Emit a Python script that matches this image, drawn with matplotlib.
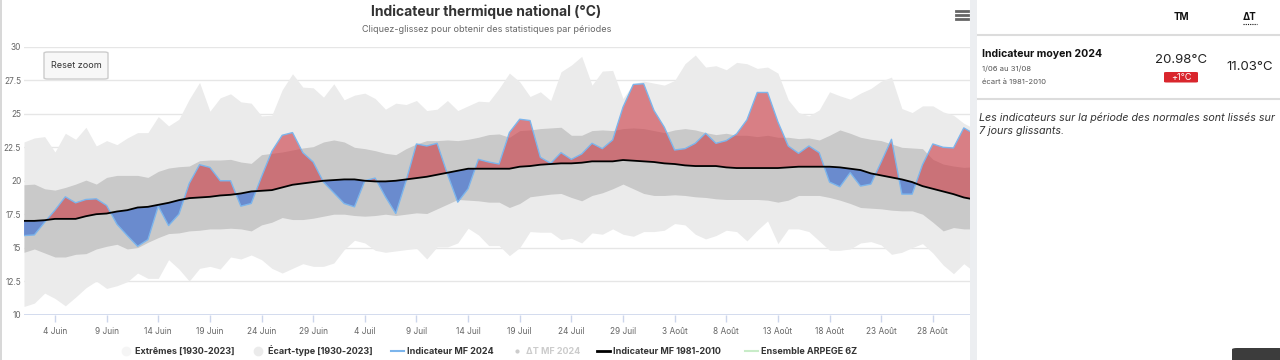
import matplotlib
matplotlib.use("Agg")
import matplotlib.pyplot as plt
from matplotlib.patches import Rectangle, FancyBboxPatch
from matplotlib.lines import Line2D
import numpy as np

plt.rcParams['font.family'] = ['Inter', 'DejaVu Sans']

# ---------------- data (day index 0 = 1 June) ----------------
ext_hi = [22.9, 23.2, 23.3, 22.15, 23.55, 23.1, 24.0, 22.6, 23.0, 22.7, 23.2, 23.6, 23.6, 24.8, 24.1, 24.6,
          26.1, 27.35, 25.2, 26.2, 26.5, 25.9, 25.8, 24.85, 24.9, 26.8, 28.0, 27.0, 26.95, 26.25, 27.25,
          26.05, 26.4, 26.55, 26.15, 25.35, 25.8, 25.7, 26.0, 25.25, 25.35, 26.0, 25.25, 25.6, 25.95, 25.9,
          26.9, 28.05, 27.4, 26.3, 26.65, 26.0, 28.15, 28.65, 29.3, 27.15, 28.2, 28.25, 26.15, 27.25, 27.45,
          27.3, 27.15, 27.5, 28.75, 29.4, 28.5, 28.6, 28.3, 28.85, 28.75, 28.4, 28.5, 28.05, 26.05, 25.1,
          24.85, 25.3, 26.65, 26.35, 26.1, 26.55, 26.9, 27.45, 27.75, 25.4, 25.1, 25.6, 25.6, 25.15, 24.9,
          24.3, 23.9]
ext_lo = [10.6, 10.85, 11.6, 11.2, 10.65, 11.3, 12.0, 12.5, 11.95, 12.15, 12.45, 13.1, 12.7, 12.7, 14.1, 13.4,
          12.5, 13.45, 13.6, 13.4, 14.3, 14.15, 14.45, 14.1, 13.45, 13.1, 13.45, 13.8, 13.6, 13.6, 13.85,
          14.85, 15.55, 15.35, 14.8, 14.65, 14.75, 14.85, 14.95, 14.15, 15.05, 15.05, 15.35, 16.45, 15.95, 15.15,
          15.15, 14.4, 15.0, 16.2, 16.15, 16.15, 15.6, 15.7, 15.35, 16.1, 16.0, 16.4, 16.0, 15.85, 16.2,
          16.2, 16.3, 16.8, 16.7, 16.0, 15.65, 15.9, 16.3, 16.2, 15.5, 16.3, 17.0, 15.3, 16.4, 16.4,
          16.2, 15.5, 14.8, 14.8, 14.9, 15.35, 15.45, 15.2, 14.5, 14.65, 15.0, 15.3, 14.6, 13.7, 13.05,
          13.8, 13.2]
std_hi = [19.7, 19.75, 19.4, 19.3, 19.5, 19.75, 20.05, 19.75, 20.25, 20.4, 20.4, 20.4, 20.25, 20.7, 20.95, 21.05,
          21.1, 21.5, 21.55, 21.55, 21.6, 21.4, 21.3, 21.95, 22.05, 22.15, 22.3, 22.45, 22.55, 22.9, 23.05,
          22.9, 22.5, 22.4, 22.25, 22.05, 21.95, 22.4, 22.75, 23.0, 23.0, 23.05, 23.0, 23.1, 23.25, 23.45,
          23.5, 23.25, 23.75, 23.8, 23.9, 23.95, 24.0, 23.4, 23.4, 23.75, 23.8, 23.75, 23.9, 23.95, 23.9,
          23.75, 23.6, 23.8, 23.9, 23.8, 23.6, 23.45, 23.55, 23.4, 23.4, 23.3, 23.4, 23.25, 23.25, 23.15,
          23.2, 23.05, 23.4, 23.8, 23.55, 23.25, 23.1, 23.0, 22.75, 22.5, 22.45, 22.4, 21.6, 21.25, 21.1,
          21.0, 21.05]
std_lo = [14.65, 14.9, 14.6, 14.3, 14.3, 14.5, 14.55, 14.9, 15.1, 15.25, 14.9, 15.0, 15.4, 15.75, 16.05, 16.1,
          16.25, 16.3, 16.4, 16.4, 16.45, 16.4, 16.25, 16.7, 16.9, 17.25, 17.1, 17.1, 17.2, 17.35, 17.5,
          17.5, 17.4, 17.35, 17.4, 17.5, 17.4, 17.5, 17.6, 17.55, 17.9, 18.25, 18.6, 18.55, 18.5, 18.4,
          18.4, 18.0, 18.3, 18.8, 18.9, 19.0, 19.05, 18.75, 18.5, 18.9, 19.1, 19.4, 19.75, 19.4, 19.05,
          18.9, 18.9, 18.95, 18.9, 18.8, 18.75, 18.65, 18.6, 18.6, 18.6, 18.6, 18.55, 18.4, 18.55, 18.9,
          18.9, 18.9, 18.75, 18.55, 18.3, 18.0, 17.95, 17.9, 17.8, 17.75, 17.75, 17.5, 16.9, 16.25, 16.5,
          16.4, 16.4]
t2024 = [15.9, 15.95, 16.9, 17.8, 18.8, 18.35, 18.6, 18.65, 18.15, 16.75, 15.9, 15.1, 15.6, 18.1, 16.65, 17.5,
         19.8, 21.2, 21.0, 20.0, 20.0, 18.1, 18.3, 20.3, 22.2, 23.4, 23.6, 22.1, 21.4, 19.9, 19.1,
         18.3, 18.05, 20.0, 20.2, 18.8, 17.55, 20.0, 22.75, 22.6, 22.8, 20.5, 18.4, 19.4, 21.6, 21.4,
         21.25, 23.6, 24.6, 24.5, 21.75, 21.3, 22.1, 21.6, 22.0, 22.8, 22.4, 23.05, 25.5, 27.2, 27.25,
         25.25, 24.0, 22.3, 22.4, 22.8, 23.55, 22.8, 23.0, 23.5, 24.55, 26.6, 26.6, 24.4, 22.6, 22.05,
         22.6, 22.1, 19.9, 19.55, 20.6, 19.6, 19.75, 21.4, 23.1, 19.0, 19.0, 21.2, 22.75, 22.5, 22.45,
         23.95, 23.5]
normal = [17.0, 17.0, 17.05, 17.15, 17.15, 17.15, 17.35, 17.5, 17.55, 17.7, 17.8, 18.0, 18.05, 18.2, 18.35, 18.55,
          18.7, 18.75, 18.8, 18.9, 18.95, 19.05, 19.2, 19.25, 19.3, 19.5, 19.7, 19.8, 19.9, 20.0, 20.05,
          20.1, 20.1, 20.0, 19.95, 19.95, 20.0, 20.1, 20.2, 20.3, 20.45, 20.6, 20.75, 20.9, 20.9, 20.9,
          20.9, 20.9, 21.05, 21.1, 21.2, 21.25, 21.3, 21.3, 21.35, 21.45, 21.45, 21.45, 21.55, 21.5, 21.45,
          21.4, 21.3, 21.25, 21.15, 21.1, 21.1, 21.1, 21.0, 20.95, 20.95, 20.95, 20.95, 20.95, 21.0, 21.05,
          21.05, 21.05, 21.05, 21.0, 20.9, 20.8, 20.55, 20.4, 20.25, 20.1, 19.9, 19.6, 19.4, 19.2, 19.0,
          18.75, 18.6]

tick_days = [3, 8, 13, 18, 23, 28, 33, 38, 43, 48, 53, 58, 63, 68, 73, 78, 83, 88]
tick_labels = ["4 Juin", "9 Juin", "14 Juin", "19 Juin", "24 Juin", "29 Juin", "4 Juil", "9 Juil",
               "14 Juil", "19 Juil", "24 Juil", "29 Juil", "3 Août", "8 Août", "13 Août", "18 Août",
               "23 Août", "28 Août"]
y_ticks = [10, 12.5, 15, 17.5, 20, 22.5, 25, 27.5, 30]
y_labels = ["10", "12.5", "15", "17.5", "20", "22.5", "25", "27.5", "30"]

legend_items = ["Extrêmes [1930-2023]", "Écart-type [1930-2023]", "Indicateur MF 2024",
                "ΔT MF 2024", "Indicateur MF 1981-2010", "Ensemble ARPEGE 6Z"]

days = np.arange(len(t2024))
t2024 = np.array(t2024); normal = np.array(normal)

W, H = 1280, 360
fig = plt.figure(figsize=(W/100, H/100), dpi=100)
fig.patch.set_facecolor('white')

def fx(x): return x / W
def fy(y): return 1 - y / H

ax = fig.add_axes([fx(24), fy(314.5), (970-24)/W, (314.5-47)/H])
ax.set_xlim(0, 91.6)
ax.set_ylim(10, 30)
ax.set_facecolor('white')
for s in ax.spines.values():
    s.set_visible(False)

for yv in y_ticks[1:]:
    ax.axhline(yv, color='#e6e6e6', lw=1, zorder=0)
ax.axhline(10, color='#ccd6eb', lw=1.2, zorder=6)

ax.fill_between(days, ext_lo, ext_hi, color='#ebebeb', lw=0, zorder=1)
ax.fill_between(days, std_lo, std_hi, color='#c9c9c9', lw=0, zorder=2)
ax.fill_between(days, normal, t2024, where=t2024 >= normal, interpolate=True,
                color=(0.80, 0.22, 0.26, 0.6), lw=0, zorder=3)
ax.fill_between(days, normal, t2024, where=t2024 <= normal, interpolate=True,
                color=(0.22, 0.42, 0.82, 0.65), lw=0, zorder=3)
ax.plot(days, t2024, color='#7cb5ec', lw=1.0, zorder=4)
ax.plot(days, normal, color='black', lw=1.3, zorder=5)

ax.set_yticks(y_ticks)
ax.set_yticklabels(y_labels)
ax.tick_params(axis='y', length=0, pad=2, labelsize=6, labelcolor='#666666')
ax.set_xticks(tick_days)
ax.set_xticklabels(tick_labels)
ax.tick_params(axis='x', length=5, width=1, color='#ccd6eb', pad=4, labelsize=6, labelcolor='#666666')

# title / subtitle
fig.text(fx(486), fy(12), "Indicateur thermique national (°C)", ha='center', va='center',
         fontsize=10, fontweight='bold', color='#333333')
fig.text(fx(487), fy(30), "Cliquez-glissez pour obtenir des statistiques par périodes", ha='center',
         va='center', fontsize=6.5, color='#666666')

# hamburger icon
for yy in (11, 15, 19):
    fig.add_artist(Line2D([fx(956), fx(968)], [fy(yy), fy(yy)], color='#666666', lw=2))

# reset zoom button
btn = FancyBboxPatch((fx(44), fy(79)), fx(64), 27/H, boxstyle="round,pad=0,rounding_size=0.003",
                     transform=fig.transFigure, facecolor='#f7f7f7', edgecolor='#cccccc', lw=1, zorder=10)
fig.add_artist(btn)
fig.text(fx(76), fy(66), "Reset zoom", ha='center', va='center', fontsize=6.5, color='#333333', zorder=11)

# legend
ly = fy(351)
fig.add_artist(Line2D([fx(126)], [ly], marker='o', ms=6, color='#f5f5f5', lw=0))
fig.text(fx(135), ly, legend_items[0], fontsize=6.5, fontweight='bold', color='#333333', va='center')
fig.add_artist(Line2D([fx(258)], [ly], marker='o', ms=6, color='#ebebeb', lw=0))
fig.text(fx(268), ly, legend_items[1], fontsize=6.5, fontweight='bold', color='#333333', va='center')
fig.add_artist(Line2D([fx(391), fx(404)], [ly, ly], color='#7cb5ec', lw=1.5))
fig.text(fx(407), ly, legend_items[2], fontsize=6.5, fontweight='bold', color='#333333', va='center')
fig.add_artist(Line2D([fx(517)], [ly], marker='o', ms=2, color='#cccccc', lw=0))
fig.text(fx(526), ly, legend_items[3], fontsize=6.5, fontweight='bold', color='#cccccc', va='center')
fig.add_artist(Line2D([fx(597), fx(610)], [ly, ly], color='black', lw=2))
fig.text(fx(613), ly, legend_items[4], fontsize=6.5, fontweight='bold', color='#333333', va='center')
fig.add_artist(Line2D([fx(745), fx(758)], [ly, ly], color='#c8ecc8', lw=1.5))
fig.text(fx(761), ly, legend_items[5], fontsize=6.5, fontweight='bold', color='#333333', va='center')

# left border
fig.add_artist(Rectangle((0, 0), fx(1.5), 1, transform=fig.transFigure, color='#d8d8d8', lw=0))
# separator between chart and panel
fig.add_artist(Rectangle((fx(970), 0), fx(7), 1, transform=fig.transFigure, color='#eceef1', lw=0))

# right panel
fig.text(fx(1181), fy(17), "TM", ha='center', va='center', fontsize=7, fontweight='bold', color='#111111')
fig.text(fx(1250), fy(17), "ΔT", ha='center', va='center', fontsize=7, fontweight='bold', color='#111111')
fig.add_artist(Line2D([fx(1243), fx(1257)], [fy(23.5), fy(23.5)], color='#111111', lw=0.8, ls=(0, (1, 1))))
fig.add_artist(Line2D([fx(978), fx(1280)], [fy(35), fy(35)], color='#dcdcdc', lw=1.5))
fig.text(fx(982), fy(54), "Indicateur moyen 2024", ha='left', va='center', fontsize=7.6,
         fontweight='bold', color='#111111')
fig.text(fx(982), fy(69), "1/06 au 31/08", ha='left', va='center', fontsize=5.5, color='#555555')
fig.text(fx(982), fy(82), "écart à 1981-2010", ha='left', va='center', fontsize=5.5, color='#555555')
fig.text(fx(1181), fy(60), "20.98°C", ha='center', va='center', fontsize=9.5, color='#222222')
badge = FancyBboxPatch((fx(1164), fy(82.5)), fx(34), 10.5/H, boxstyle="round,pad=0,rounding_size=0.002",
                       transform=fig.transFigure, facecolor='#d9262d', edgecolor='none', zorder=10)
fig.add_artist(badge)
fig.text(fx(1181), fy(77), "+1°C", ha='center', va='center', fontsize=6.5, color='white', zorder=11)
fig.text(fx(1250), fy(67), "11.03°C", ha='center', va='center', fontsize=9.5, color='#222222')
fig.add_artist(Line2D([fx(978), fx(1280)], [fy(99), fy(99)], color='#dcdcdc', lw=1.5))
fig.text(fx(979), fy(118), "Les indicateurs sur la période des normales sont lissés sur", ha='left',
         va='center', fontsize=7.7, style='italic', color='#333333')
fig.text(fx(979), fy(131), "7 jours glissants.", ha='left', va='center', fontsize=7.7, style='italic',
         color='#333333')

# corner widget
corner = FancyBboxPatch((fx(1232), fy(362)), fx(52), 14/H, boxstyle="round,pad=0,rounding_size=0.004",
                        transform=fig.transFigure, facecolor='#3c3c3c', edgecolor='none')
fig.add_artist(corner)

fig.savefig("out.png", dpi=100, facecolor='white')
